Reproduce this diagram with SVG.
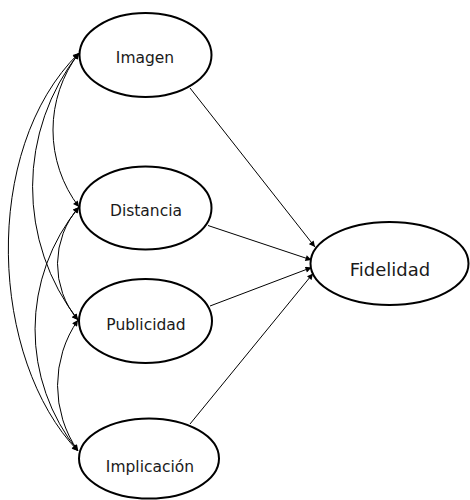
<svg xmlns="http://www.w3.org/2000/svg" width="470" height="500" viewBox="0 0 470 500">
<style>
.node ellipse{fill:#fff;stroke:#000;stroke-width:2}
.node text{font-family:"DejaVu Sans","Verdana",sans-serif;font-size:15.5px;fill:#1a1a1a;text-anchor:middle}
#fidelidad text{font-size:18px}
.conn path, .conn line{fill:none;stroke:#000;stroke-width:1}
</style>
<defs>
<marker id="ah" viewBox="0 0 10 10" refX="10" refY="5" markerWidth="7" markerHeight="6" markerUnits="userSpaceOnUse" orient="auto-start-reverse">
<path d="M0,0 L10,5 L0,10 z" fill="#000"/>
</marker>
</defs>
<rect width="470" height="500" fill="#fff"/>
<g class="conn" id="connectors">
<line x1="190" y1="88" x2="315" y2="247" marker-end="url(#ah)"/>
<line x1="208" y1="225.5" x2="311.5" y2="260" marker-end="url(#ah)"/>
<line x1="210" y1="306" x2="311.5" y2="267.5" marker-end="url(#ah)"/>
<line x1="190" y1="424" x2="313" y2="273.5" marker-end="url(#ah)"/>
<path d="M79,53 A127,127 0 0 0 79,207" marker-start="url(#ah)" marker-end="url(#ah)"/>
<path d="M79,53 A217,217 0 0 0 78,320" marker-start="url(#ah)" marker-end="url(#ah)"/>
<path d="M79,53 C-20,150 -10,360 78,451" marker-start="url(#ah)" marker-end="url(#ah)"/>
<path d="M79,207 A86.5,86.5 0 0 0 78,320" marker-start="url(#ah)" marker-end="url(#ah)"/>
<path d="M79,207 A193,193 0 0 0 78,451" marker-start="url(#ah)" marker-end="url(#ah)"/>
<path d="M78,320 A115,115 0 0 0 78,451" marker-start="url(#ah)" marker-end="url(#ah)"/>
</g>
<g class="node" id="imagen"><ellipse cx="145.5" cy="55" rx="66" ry="42"/><text x="145" y="62.5">Imagen</text></g>
<g class="node" id="distancia"><ellipse cx="145.5" cy="208" rx="66" ry="41.5"/><text x="146" y="216">Distancia</text></g>
<g class="node" id="publicidad"><ellipse cx="145.5" cy="321" rx="66.5" ry="42"/><text x="146" y="329.5">Publicidad</text></g>
<g class="node" id="implicacion"><ellipse cx="149" cy="458.5" rx="70" ry="40"/><text x="150" y="471.5">Implicación</text></g>
<g class="node" id="fidelidad"><ellipse cx="389.5" cy="263.5" rx="79" ry="41.5"/><text x="390" y="276">Fidelidad</text></g>
</svg>
